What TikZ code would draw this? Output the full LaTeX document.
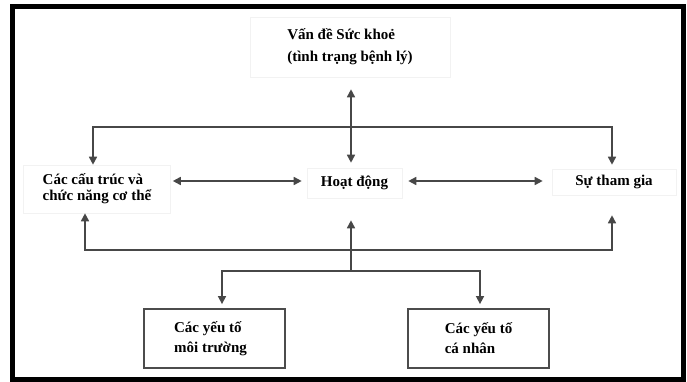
\documentclass[tikz,border=0pt]{standalone}
\usepackage{fontspec}
\setmainfont{Liberation Serif}
\usetikzlibrary{arrows.meta}
\begin{document}
\begin{tikzpicture}[x=1pt,y=-1pt,
  txt/.style={font=\fontsize{15}{16}\selectfont\bfseries, inner sep=0pt, draw=black!5, line width=0.6pt, align=left},
  fbox/.style={font=\fontsize{15}{20}\selectfont\bfseries, inner sep=0pt, draw=black!70, line width=1.8pt, align=left, minimum width=141pt, minimum height=59pt},
  conn/.style={draw=black!72, line width=1.6pt},
  arr/.style={conn, -{Triangle[width=8pt,length=8pt]}},
  darr/.style={conn, {Triangle[width=8pt,length=8pt]}-{Triangle[width=8pt,length=8pt]}}]
\useasboundingbox (0,0) rectangle (687,382);
\draw[line width=5pt] (12,7) rectangle (683,379);
% nodes
\node[txt, minimum width=200pt, minimum height=60pt, font=\fontsize{15}{22}\selectfont\bfseries] (top) at (350,47) {Vấn đề Sức khoẻ\\(tình trạng bệnh lý)};
\node[txt, minimum width=147pt, minimum height=48pt] (body) at (97,189) {Các cấu trúc và\\chức năng cơ thể};
\node[txt, minimum width=95pt, minimum height=30pt] (act) at (354.5,183) {Hoạt động};
\node[txt, minimum width=124pt, minimum height=26pt] (part) at (614,182) {Sự tham gia};
\node[fbox] (env) at (214.5,338.5) {Các yếu tố\\môi trường\hspace*{8pt}};
\node[fbox] (pers) at (478.5,338.5) {Các yếu tố\\cá nhân};
% hub coordinates
\coordinate (hub) at (351,127);
\coordinate (hrow) at (351,181);
\coordinate (low) at (351,250);
\coordinate (split) at (351,271);
% connectors
\draw[darr, shorten <=12pt, shorten >=5pt] (top.south -| hub) -- (act.north -| hub);
\draw[arr] (hub) -| ([xshift=-4pt]body.north);
\draw[arr, shorten >=4pt] (hub) -| ([xshift=-2pt]part.north);
\draw[darr, shorten <=2pt, shorten >=5pt] (body.east |- hrow) -- (act.west |- hrow);
\draw[darr, shorten <=6pt, shorten >=9pt] (act.east |- hrow) -- (part.west |- hrow);
\draw[arr] (low) -| ([xshift=-12pt]body.south);
\draw[arr, shorten >=20pt] (low) -| ([xshift=-2pt]part.south);
\draw[conn] (low) -- (split);
\draw[arr, shorten >=22pt] (split) -- (act.south -| split);
\draw[arr, shorten >=4pt] (split) -| ([xshift=7.5pt]env.north);
\draw[arr, shorten >=4pt] (split) -| ([xshift=1.5pt]pers.north);
\end{tikzpicture}
\end{document}
